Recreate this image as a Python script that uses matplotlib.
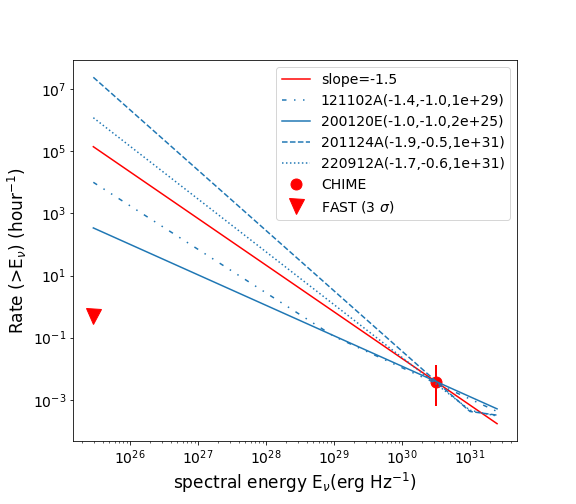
import matplotlib
matplotlib.use('Agg')
import matplotlib.pyplot as plt
import numpy as np

# spectral energy (erg/Hz) and cumulative rate (1/hour)
E_slope = [2.9e25, 2.5e31]
R_slope = [1.4e5, 1.7e-4]

E_121102A = [2.9e25, 1e29, 2.5e31]
R_121102A = [1.0e4, 0.11, 4.2e-4]

E_200120E = [2.9e25, 2.5e31]
R_200120E = [3.4e2, 5.1e-4]

E_201124A = [2.9e25, 1e31, 2.5e31]
R_201124A = [2.4e7, 4.2e-4, 3.2e-4]

E_220912A = [2.9e25, 1e31, 2.5e31]
R_220912A = [1.2e6, 4.6e-4, 3.0e-4]

E_chime = 3.2e30
R_chime = 3.7e-3
R_chime_err = [[3.06e-3], [9.8e-3]]

E_fast = 2.9e25
R_fast = 0.51

fig = plt.figure(figsize=(8, 7), dpi=72)
ax = fig.add_subplot()
fig.subplots_adjust(left=0.127, right=0.898, top=0.881, bottom=0.125)

ax.plot(E_slope, R_slope, color='red', lw=1.5, label='slope=-1.5')
ax.plot(E_121102A, R_121102A, color='C0', ls=(0, (3, 5, 1, 5, 1, 5)), label='121102A(-1.4,-1.0,1e+29)')
ax.plot(E_200120E, R_200120E, color='C0', ls='-', label='200120E(-1.0,-1.0,2e+25)')
ax.plot(E_201124A, R_201124A, color='C0', ls='--', label='201124A(-1.9,-0.5,1e+31)')
ax.plot(E_220912A, R_220912A, color='C0', ls=':', label='220912A(-1.7,-0.6,1e+31)')

ax.errorbar(E_chime, R_chime, yerr=R_chime_err, fmt='none', ecolor='red', elinewidth=2, zorder=1)
ax.plot(E_chime, R_chime, 'o', color='red', ms=11, zorder=1, label='CHIME')
ax.plot(E_fast, R_fast, 'v', color='red', ms=15, label=r'FAST (3 $\sigma$)')

ax.set_xscale('log')
ax.set_yscale('log')
ax.set_xlabel(r'spectral energy E$_\nu$(erg Hz$^{-1}$)', fontsize=17)
ax.set_ylabel(r'Rate (>E$_\nu$) (hour$^{-1}$)', fontsize=17)
ax.tick_params(labelsize=14)
ax.legend(fontsize=14, loc='upper right')

plt.savefig('out.png', dpi=72)
